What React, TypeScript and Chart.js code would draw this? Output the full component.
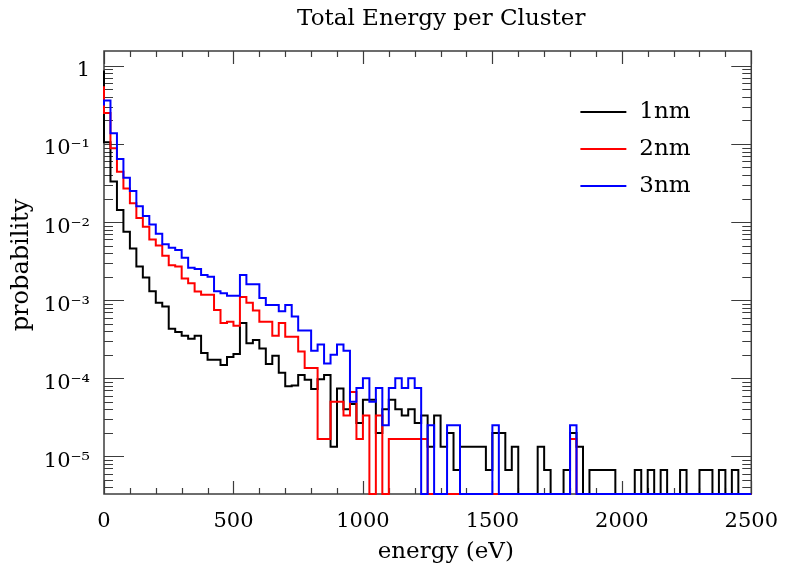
import React, { useEffect, useRef } from 'react';
import { Chart, registerables } from 'chart.js';

Chart.register(...registerables);

// ---- data (25 eV bins, 0 .. 2500 eV) ----
const BIN_WIDTH = 25;
const X_MIN = 0;
const X_MAX = 2500;
const Y_MIN = 3.3e-6;
const Y_MAX = 1.55;
const X_TICK_VALUES = [0, 500, 1000, 1500, 2000, 2500];
const Y_TICK_DECADES = [0, -1, -2, -3, -4, -5];
const SERIES_LABELS = ['1nm', '2nm', '3nm'];
const SERIES_COLORS = ['#000000', '#ff0000', '#0000ff'];

const black = [
  0.87, 0.105, 0.033, 0.0143, 0.0075, 0.0046, 0.0027, 0.00195, 0.0013, 0.00093,
  0.00083, 0.00043, 0.00039, 0.00035, 0.00032, 0.00035, 0.00021, 0.000173, 0.000173, 0.000148,
  0.000187, 0.000205, 0.00051, 0.00028, 0.00031, 0.00024, 0.000152, 0.000195, 0.000118, 0.000079,
  0.000081, 0.00011, 0.000096, 0.000073, 0.000097, 0.00011, 1.33e-5, 7.4e-5, 4e-5, 4.67e-5,
  2.67e-5, 5.33e-5, 5.33e-5, 2e-5, 4e-5, 5.33e-5, 4e-5, 3.33e-5, 4e-5, 2.67e-5,
  3.33e-5, 1.33e-5, 3.33e-5, 1.33e-5, 2e-5, 6.7e-6, 1.33e-5, 1.33e-5, 1.33e-5, 1.33e-5,
  6.7e-6, 2e-5, 2e-5, 6.7e-6, 1.33e-5, 0, 0, 0, 1.33e-5, 6.7e-6,
  0, 0, 6.7e-6, 2e-5, 1.33e-5, 0, 6.7e-6, 6.7e-6, 6.7e-6, 6.7e-6,
  0, 0, 0, 6.7e-6, 0, 6.7e-6, 0, 6.7e-6, 0, 0,
  6.7e-6, 0, 0, 6.7e-6, 6.7e-6, 0, 6.7e-6, 0, 6.7e-6, 0,
];

const red = [
  0.55, 0.25, 0.088, 0.044, 0.027, 0.0174, 0.0113, 0.0087, 0.006, 0.005,
  0.0037, 0.0028, 0.0027, 0.0019, 0.00165, 0.00129, 0.00117, 0.00117, 0.00075, 0.00051,
  0.00053, 0.00047, 0.0011, 0.00093, 0.00074, 0.00053, 0.00053, 0.00035, 0.00051, 0.00034,
  0.00034, 0.00022, 0.000135, 0.000135, 1.67e-5, 1.67e-5, 5e-5, 5e-5, 3.33e-5, 6.67e-5,
  1.67e-5, 3.33e-5, 0, 3.33e-5, 0, 1.67e-5, 1.67e-5, 1.67e-5, 1.67e-5, 1.67e-5,
  1.67e-5, 0, 0, 0, 0, 0, 0, 0, 0, 0,
  0, 0, 0, 0, 0, 0, 0, 0, 0, 0,
  0, 0, 0, 1.67e-5, 0, 0, 0, 0, 0, 0,
  0, 0, 0, 0, 0, 0, 0, 0, 0, 0,
  0, 0, 0, 0, 0, 0, 0, 0, 0, 0,
];

const blue = [
  0.31, 0.36, 0.137, 0.064, 0.037, 0.025, 0.016, 0.012, 0.0093, 0.0071,
  0.0052, 0.0047, 0.0044, 0.0035, 0.0026, 0.0025, 0.0021, 0.002, 0.0013, 0.00123,
  0.00114, 0.00114, 0.0021, 0.0016, 0.0016, 0.00107, 0.00087, 0.00087, 0.00072, 0.00087,
  0.00062, 0.00041, 0.00041, 0.000225, 0.00027, 0.000155, 0.0002, 0.00027, 0.000225, 5e-5,
  7.5e-5, 1e-4, 5e-5, 7.5e-5, 2.5e-5, 7.5e-5, 1e-4, 7.5e-5, 1e-4, 7.5e-5,
  0, 2.5e-5, 0, 0, 2.5e-5, 2.5e-5, 0, 0, 0, 0,
  0, 2.5e-5, 0, 0, 0, 0, 0, 0, 0, 0,
  0, 0, 0, 2.5e-5, 0, 0, 0, 0, 0, 0,
  0, 0, 0, 0, 0, 0, 0, 0, 0, 0,
  0, 0, 0, 0, 0, 0, 0, 0, 0, 0,
];

const SERIES = [black, red, blue];

// ---- helpers ----
const SUP: Record<string, string> = {
  '-': '\u207B', '0': '\u2070', '1': '\u00B9', '2': '\u00B2', '3': '\u00B3',
  '4': '\u2074', '5': '\u2075', '6': '\u2076', '7': '\u2077', '8': '\u2078', '9': '\u2079',
};
const sup = (n: number) => String(n).split('').map((c) => SUP[c] || c).join('');

const histPoints = (vals: number[]) => {
  const pts = vals.map((v, i) => ({ x: X_MIN + i * BIN_WIDTH, y: v > 0 ? v : Y_MIN }));
  const last = vals[vals.length - 1];
  pts.push({ x: X_MIN + vals.length * BIN_WIDTH, y: last > 0 ? last : Y_MIN });
  return pts;
};

const FONT = '"DejaVu Serif", "Liberation Serif", serif';

const framePlugin = {
  id: 'frameTicks',
  beforeDatasetsDraw(chart: any) {
    const { ctx, chartArea: a, scales } = chart;
    const xs = scales.x;
    const ys = scales.y;
    ctx.save();
    ctx.strokeStyle = '#3c3c3c';
    ctx.lineWidth = 1.2;
    ctx.beginPath();
    for (let v = X_MIN; v <= X_MAX; v += 100) {
      const px = Math.round(xs.getPixelForValue(v)) + 0.5;
      const len = v % 500 === 0 ? 13 : 6;
      ctx.moveTo(px, a.bottom);
      ctx.lineTo(px, a.bottom - len);
      ctx.moveTo(px, a.top);
      ctx.lineTo(px, a.top + len);
    }
    for (let d = -6; d <= 0; d++) {
      for (let m = 1; m <= 9; m++) {
        const v = m * Math.pow(10, d);
        if (v < Y_MIN || v > Y_MAX) continue;
        const py = Math.round(ys.getPixelForValue(v)) + 0.5;
        const len = m === 1 ? 20 : 9;
        ctx.moveTo(a.left, py);
        ctx.lineTo(a.left + len, py);
        ctx.moveTo(a.right, py);
        ctx.lineTo(a.right - len, py);
      }
    }
    ctx.stroke();
    ctx.lineWidth = 1.5;
    ctx.strokeRect(a.left, a.top, a.right - a.left, a.bottom - a.top);
    ctx.restore();
  },
  afterDraw(chart: any) {
    const { ctx, chartArea: a } = chart;
    const w = a.right - a.left;
    const h = a.bottom - a.top;
    ctx.save();
    ctx.fillStyle = '#000';
    ctx.textAlign = 'center';
    ctx.textBaseline = 'middle';
    // title
    ctx.font = `23px ${FONT}`;
    ctx.fillText('Total Energy per Cluster', a.left + w * 0.521, 19);
    // x axis title
    ctx.fillText('energy (eV)', a.left + w * 0.528, 552);
    // y axis title
    ctx.save();
    ctx.translate(22, a.top + h * 0.483);
    ctx.rotate(-Math.PI / 2);
    ctx.font = `24px ${FONT}`;
    ctx.fillText('probability', 0, 0);
    ctx.restore();
    // legend
    ctx.font = `23px ${FONT}`;
    ctx.textAlign = 'left';
    const ds = chart.data.datasets;
    const legY = [112, 149, 186];
    ds.forEach((d: any, i: number) => {
      const y = legY[i];
      ctx.strokeStyle = d.borderColor;
      ctx.lineWidth = 2;
      ctx.beginPath();
      ctx.moveTo(a.left + w * 0.736, y);
      ctx.lineTo(a.left + w * 0.807, y);
      ctx.stroke();
      ctx.fillStyle = '#000';
      ctx.fillText(d.label, a.left + w * 0.827, y);
    });
    ctx.restore();
  },
};

export default function App() {
  const ref = useRef<HTMLCanvasElement | null>(null);
  useEffect(() => {
    if (!ref.current) return;
    const datasets = SERIES.map((vals, i) => ({
      label: SERIES_LABELS[i],
      data: histPoints(vals),
      borderColor: SERIES_COLORS[i],
      backgroundColor: SERIES_COLORS[i],
      borderWidth: 2,
      stepped: 'after' as const,
      pointRadius: 0,
      fill: false,
      clip: 3,
      order: 3 - i,
    }));
    const chart = new Chart(ref.current, {
      type: 'line',
      data: { datasets },
      options: {
        animation: false,
        responsive: false,
        devicePixelRatio: 1,
        layout: { padding: { left: 0, top: 51, right: 35, bottom: 0 } },
        plugins: { legend: { display: false }, tooltip: { enabled: false }, title: { display: false } },
        scales: {
          x: {
            type: 'linear',
            min: X_MIN,
            max: X_MAX,
            afterBuildTicks: (s: any) => {
              s.ticks = X_TICK_VALUES.map((v) => ({ value: v }));
            },
            afterFit: (s: any) => {
              s.height = 75;
            },
            grid: { display: false, drawTicks: false },
            border: { display: false },
            ticks: {
              color: '#000',
              font: { family: FONT, size: 21 },
              padding: 15,
              maxRotation: 0,
              autoSkip: false,
              callback: (v: any) => String(v),
            },
          },
          y: {
            type: 'logarithmic',
            min: Y_MIN,
            max: Y_MAX,
            afterBuildTicks: (s: any) => {
              s.ticks = Y_TICK_DECADES.map((d) => ({ value: Math.pow(10, d) }));
            },
            afterFit: (s: any) => {
              s.width = 104;
            },
            grid: { display: false, drawTicks: false },
            border: { display: false },
            ticks: {
              color: '#000',
              font: { family: FONT, size: 21 },
              padding: 14,
              labelOffset: 5,
              autoSkip: false,
              callback: (v: any) => {
                const d = Math.round(Math.log10(Number(v)));
                return d === 0 ? '1' : '10' + sup(d);
              },
            },
          },
        },
      },
      plugins: [framePlugin],
    });
    return () => chart.destroy();
  }, []);

  return (
    <div style={{ position: 'fixed', left: 0, top: 0, width: 793, height: 569, background: '#fff' }}>
      <canvas ref={ref} width={793} height={569} style={{ display: 'block' }} />
    </div>
  );
}
